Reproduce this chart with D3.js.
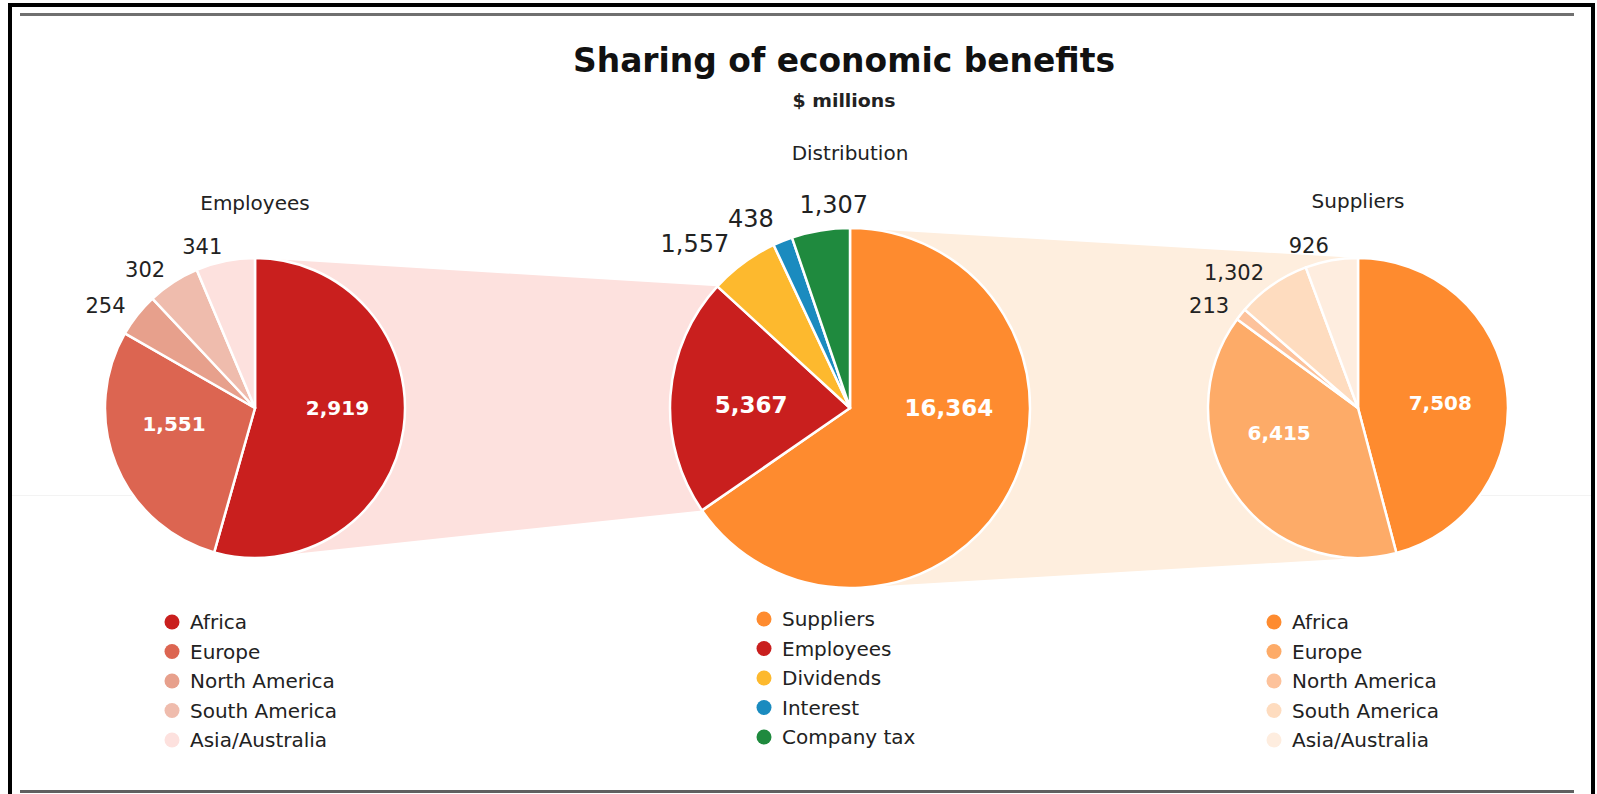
<!DOCTYPE html>
<html>
<head>
<meta charset="utf-8">
<script src="https://cdn.jsdelivr.net/npm/d3@7"></script>
<style>
  html, body { margin: 0; padding: 0; background: #fff; }
  svg { display: block; }
</style>
</head>
<body>
<svg id="chart" width="1597" height="794"></svg>
<script>
// ---- data ($ millions) ----
const distributionCategories = ["Suppliers", "Employees", "Dividends", "Interest", "Company tax"];
const distributionValues = [16364, 5367, 1557, 438, 1307];
const distributionColors = ["#fe8b2f", "#c91f1e", "#fdb92e", "#1a8bbf", "#1f8a3e"];

const regions = ["Africa", "Europe", "North America", "South America", "Asia/Australia"];
const employeeValues = [2919, 1551, 254, 302, 341];
const employeeColors = ["#c91f1e", "#dc6551", "#e7a08c", "#efbcad", "#fde1de"];

const supplierValues = [7508, 6415, 213, 1302, 926];
const supplierColors = ["#fe8b2f", "#fdab68", "#fdc29b", "#fedcbf", "#feeddf"];

const chartTitle = "Sharing of economic benefits";
const chartSubtitle = "$ millions";

// ---- layout ----
const svg = d3.select("#chart");
const FONT = "'DejaVu Sans', Verdana, sans-serif";
const fmt = d3.format(",");
const TAU = 2 * Math.PI;

const pies = {
  employees: { title: "Employees", cx: 255, cy: 408, r: 150, titleY: 210,
               values: employeeValues, colors: employeeColors, names: regions,
               inFont: 20, outFont: 21, outGap: 15,
               legendX: 172, legendY: 622 },
  distribution: { title: "Distribution", cx: 850, cy: 408, r: 180, titleY: 160,
               values: distributionValues, colors: distributionColors, names: distributionCategories,
               inFont: 23, outFont: 24, outGap: 24,
               legendX: 764, legendY: 619 },
  suppliers: { title: "Suppliers", cx: 1358, cy: 408, r: 150, titleY: 208,
               values: supplierValues, colors: supplierColors, names: regions,
               inFont: 20, outFont: 21, outGap: 15,
               legendX: 1274, legendY: 622 }
};

const pieGen = d3.pie().sort(null).value(d => d).startAngle(0).endAngle(TAU);
Object.values(pies).forEach(p => { p.arcs = pieGen(p.values); });

const polar = (p, R, a) => [p.cx + R * Math.sin(a), p.cy - R * Math.cos(a)];

// ---- frame ----
svg.append("rect").attr("x", 10).attr("y", 5).attr("width", 1583).attr("height", 800)
  .attr("fill", "none").attr("stroke", "#000").attr("stroke-width", 4);
svg.append("line").attr("x1", 20).attr("x2", 1574).attr("y1", 14.5).attr("y2", 14.5)
  .attr("stroke", "#707070").attr("stroke-width", 3);
svg.append("line").attr("x1", 20).attr("x2", 1574).attr("y1", 791.5).attr("y2", 791.5)
  .attr("stroke", "#606060").attr("stroke-width", 3);
svg.append("line").attr("x1", 12).attr("x2", 1591).attr("y1", 495.5).attr("y2", 495.5)
  .attr("stroke", "#f3f3f3").attr("stroke-width", 1);

// ---- titles ----
svg.append("text").attr("x", 844).attr("y", 72).attr("text-anchor", "middle")
  .attr("font-family", FONT).attr("font-weight", "bold")
  .attr("font-size", 33).attr("fill", "#111")
  .attr("textLength", 542).attr("lengthAdjust", "spacingAndGlyphs").text(chartTitle);
svg.append("text").attr("x", 844).attr("y", 107).attr("text-anchor", "middle")
  .attr("font-family", FONT).attr("font-weight", "bold").attr("font-size", 17).attr("fill", "#222")
  .attr("textLength", 103).attr("lengthAdjust", "spacingAndGlyphs").text(chartSubtitle);

// ---- connector bands (main slice -> breakdown pie) ----
function bandPoints(mainPie, sliceIndex, sub) {
  const s = mainPie.arcs[sliceIndex];
  const a0 = s.startAngle, a1 = s.endAngle;
  const p0 = polar(mainPie, mainPie.r, a0), p1 = polar(mainPie, mainPie.r, a1);
  const upper = (a0 <= 0 && a1 >= 0) ? polar(mainPie, mainPie.r, 0) : (p0[1] < p1[1] ? p0 : p1);
  const lower = (a0 <= Math.PI && a1 >= Math.PI) ? polar(mainPie, mainPie.r, Math.PI) : (p0[1] > p1[1] ? p0 : p1);
  const subTop = [sub.cx, sub.cy - sub.r], subBottom = [sub.cx, sub.cy + sub.r];
  return [upper, subTop, subBottom, lower];
}
const bands = svg.append("g");
bands.append("polygon")
  .attr("points", bandPoints(pies.distribution, distributionCategories.indexOf("Employees"), pies.employees).join(" "))
  .attr("fill", "#fde1de");
bands.append("polygon")
  .attr("points", bandPoints(pies.distribution, distributionCategories.indexOf("Suppliers"), pies.suppliers).join(" "))
  .attr("fill", "#feeede");

// ---- pies ----
Object.values(pies).forEach(p => {
  const g = svg.append("g").attr("transform", `translate(${p.cx},${p.cy})`);
  const arc = d3.arc().innerRadius(0).outerRadius(p.r);
  g.selectAll("path").data(p.arcs).join("path")
    .attr("d", arc)
    .attr("fill", (d, i) => p.colors[i])
    .attr("stroke", "#fff").attr("stroke-width", 2.5).attr("stroke-linejoin", "round");

  // pie heading
  svg.append("text").attr("x", p.cx).attr("y", p.titleY).attr("text-anchor", "middle")
    .attr("font-family", FONT).attr("font-size", 20).attr("fill", "#222").text(p.title);

  const total = d3.sum(p.values);
  const outer = [];
  p.arcs.forEach((d, i) => {
    const sweep = d.endAngle - d.startAngle;
    const mid = (d.startAngle + d.endAngle) / 2;
    if (d.value / total > 0.15) {
      // large slices: white value inside, pulled toward the horizontal axis
      const h = mid < Math.PI ? Math.PI / 2 : 3 * Math.PI / 2;
      const a = sweep > Math.PI ? h : mid + 0.5 * (h - mid);
      const [x, y] = polar(p, p.r * 0.55, a);
      svg.append("text").attr("x", x).attr("y", y).attr("dy", "0.36em")
        .attr("text-anchor", "middle").attr("font-family", FONT).attr("font-weight", "bold")
        .attr("font-size", p.inFont).attr("fill", "#fff").text(fmt(d.value));
    } else {
      outer.push({ d, mid });
    }
  });

  // small slices: value outside, right edge on the slice's radial line
  const R = p.r + p.outGap;
  const boxes = [];
  outer.forEach(o => {
    const t = svg.append("text").attr("text-anchor", "end").attr("font-family", FONT)
      .attr("font-size", p.outFont).attr("fill", "#222").text(fmt(o.d.value));
    const w = t.node().getComputedTextLength();
    const hgt = p.outFont * 0.75;
    let a = o.mid, box;
    for (let k = 0; k < 90; k++) {
      const [x, y] = polar(p, R, a);
      box = { x0: x - w, x1: x, y0: y - hgt / 2, y1: y + hgt / 2 };
      const hit = boxes.some(b => !(box.x0 >= b.x1 + 24 || box.x1 <= b.x0 - 24 ||
                                    box.y0 >= b.y1 + 6 || box.y1 <= b.y0 - 6));
      if (!hit) break;
      a += Math.PI / 360;
    }
    boxes.push(box);
    t.attr("x", box.x1).attr("y", (box.y0 + box.y1) / 2).attr("dy", "0.36em");
  });

  // legend
  const lg = svg.append("g");
  p.names.forEach((name, i) => {
    const y = p.legendY + i * 29.5;
    lg.append("circle").attr("cx", p.legendX).attr("cy", y).attr("r", 7.5).attr("fill", p.colors[i]);
    lg.append("text").attr("x", p.legendX + 18).attr("y", y).attr("dy", "0.36em")
      .attr("font-family", FONT).attr("font-size", 20).attr("fill", "#222").text(name);
  });
});
</script>
</body>
</html>
